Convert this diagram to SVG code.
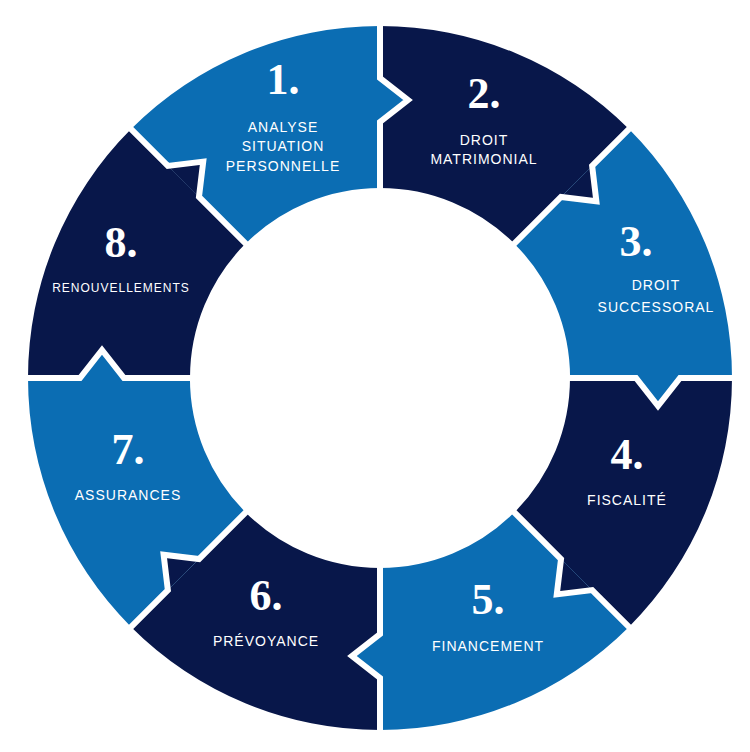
<svg xmlns="http://www.w3.org/2000/svg" width="750" height="752" viewBox="0 0 750 752">
<style>
.l{fill:#0b6db3}.d{fill:#08174a}
.b{fill:none;stroke:#fff;stroke-width:6;stroke-linejoin:miter}
.n{font-family:"Liberation Serif",serif;font-weight:bold;font-size:44px;fill:#fff;text-anchor:middle}
.t{font-family:"Liberation Sans",Arial,sans-serif;font-size:14px;letter-spacing:1px;fill:#fff;text-anchor:middle}
</style>
<rect width="750" height="752" fill="#fff"/>
<g id="seg1"><path class="l" d="M380,26 A352,352 0 0 1 628.9,129.1 L514.4,243.6 A190,190 0 0 0 380,188 Z" transform="rotate(-45 380 378)"/></g>
<g id="seg2"><path class="d" d="M380,26 A352,352 0 0 1 628.9,129.1 L514.4,243.6 A190,190 0 0 0 380,188 Z"/></g>
<g id="seg3"><path class="l" d="M380,26 A352,352 0 0 1 628.9,129.1 L514.4,243.6 A190,190 0 0 0 380,188 Z" transform="rotate(45 380 378)"/></g>
<g id="seg4"><path class="d" d="M380,26 A352,352 0 0 1 628.9,129.1 L514.4,243.6 A190,190 0 0 0 380,188 Z" transform="rotate(90 380 378)"/></g>
<g id="seg5"><path class="l" d="M380,26 A352,352 0 0 1 628.9,129.1 L514.4,243.6 A190,190 0 0 0 380,188 Z" transform="rotate(135 380 378)"/></g>
<g id="seg6"><path class="d" d="M380,26 A352,352 0 0 1 628.9,129.1 L514.4,243.6 A190,190 0 0 0 380,188 Z" transform="rotate(180 380 378)"/></g>
<g id="seg7"><path class="l" d="M380,26 A352,352 0 0 1 628.9,129.1 L514.4,243.6 A190,190 0 0 0 380,188 Z" transform="rotate(225 380 378)"/></g>
<g id="seg8"><path class="d" d="M380,26 A352,352 0 0 1 628.9,129.1 L514.4,243.6 A190,190 0 0 0 380,188 Z" transform="rotate(270 380 378)"/></g>
<g id="connectors">
<polygon class="l" points="380,122 408,100 380,78"/>
<polygon class="d" points="380,122 408,100 380,78" transform="rotate(45 380 378)"/>
<polygon class="l" points="380,122 408,100 380,78" transform="rotate(90 380 378)"/>
<polygon class="d" points="380,122 408,100 380,78" transform="rotate(135 380 378)"/>
<polygon class="l" points="380,122 408,100 380,78" transform="rotate(180 380 378)"/>
<polygon class="d" points="380,122 408,100 380,78" transform="rotate(225 380 378)"/>
<polygon class="l" points="380,122 408,100 380,78" transform="rotate(270 380 378)"/>
<polygon class="d" points="380,122 408,100 380,78" transform="rotate(315 380 378)"/>
<polyline class="b" points="380,192 380,122 408,100 380,78 380,20"/>
<polyline class="b" points="380,192 380,122 408,100 380,78 380,20" transform="rotate(45 380 378)"/>
<polyline class="b" points="380,192 380,122 408,100 380,78 380,20" transform="rotate(90 380 378)"/>
<polyline class="b" points="380,192 380,122 408,100 380,78 380,20" transform="rotate(135 380 378)"/>
<polyline class="b" points="380,192 380,122 408,100 380,78 380,20" transform="rotate(180 380 378)"/>
<polyline class="b" points="380,192 380,122 408,100 380,78 380,20" transform="rotate(225 380 378)"/>
<polyline class="b" points="380,192 380,122 408,100 380,78 380,20" transform="rotate(270 380 378)"/>
<polyline class="b" points="380,192 380,122 408,100 380,78 380,20" transform="rotate(315 380 378)"/>
</g>
<g id="labels">
<text class="n" x="283" y="94">1.</text>
<text class="t" x="283" y="132">ANALYSE</text><text class="t" x="283" y="151">SITUATION</text><text class="t" x="283" y="171">PERSONNELLE</text>
<text class="n" x="484" y="108">2.</text>
<text class="t" x="484" y="145">DROIT</text><text class="t" x="484" y="164">MATRIMONIAL</text>
<text class="n" x="636" y="256">3.</text>
<text class="t" x="656" y="290">DROIT</text><text class="t" x="656" y="312">SUCCESSORAL</text>
<text class="n" x="627" y="469">4.</text>
<text class="t" x="627" y="505">FISCALITÉ</text>
<text class="n" x="488" y="614">5.</text>
<text class="t" x="488" y="651">FINANCEMENT</text>
<text class="n" x="266" y="610">6.</text>
<text class="t" x="266" y="646">PRÉVOYANCE</text>
<text class="n" x="128" y="464">7.</text>
<text class="t" x="128" y="500">ASSURANCES</text>
<text class="n" x="121" y="257">8.</text>
<text class="t" x="121" y="292" style="font-size:12px">RENOUVELLEMENTS</text>
</g>
</svg>
